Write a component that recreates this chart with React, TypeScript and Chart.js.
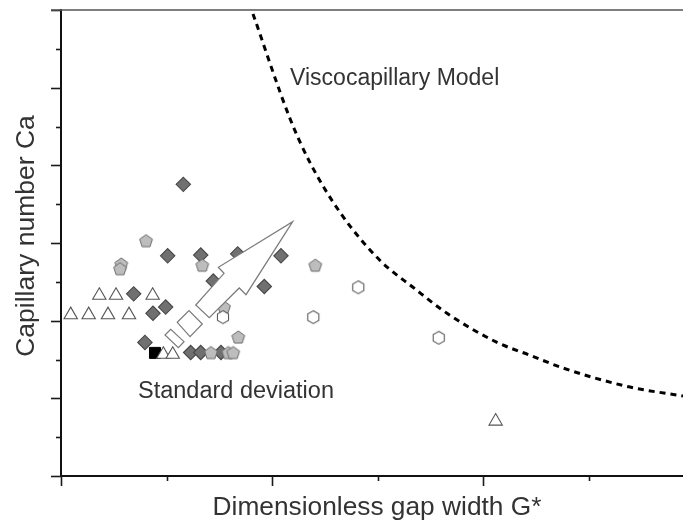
import React, { useEffect, useRef } from 'react';
import { Chart, registerables } from 'chart.js';

Chart.register(...registerables);

// ---- data (x in minor-tick units of G*, y in minor-tick units of Ca) ----
const diamondX = [1.158, 1.010, 1.323, 1.673, 2.083, 0.688, 0.991, 0.871, 1.442, 1.925, 0.795, 1.228, 1.323, 1.515];
const diamondY = [7.51, 5.67, 5.69, 5.72, 5.67, 4.69, 4.35, 4.19, 5.02, 4.88, 3.44, 3.18, 3.18, 3.18];

const pentagonX = [0.805, 0.571, 0.559, 1.338, 2.408, 1.544, 1.679, 1.420, 1.584, 1.631];
const pentagonY = [6.06, 5.46, 5.34, 5.43, 5.43, 4.35, 3.58, 3.18, 3.18, 3.18];

const triangleX = [0.363, 0.521, 0.868, 0.092, 0.262, 0.445, 0.644, 0.969, 1.058, 4.116];
const triangleY = [4.65, 4.65, 4.65, 4.15, 4.15, 4.15, 4.15, 3.13, 3.13, 1.41];

const hexagonX = [1.534, 2.389, 2.815, 3.577];
const hexagonY = [4.09, 4.09, 4.86, 3.56];

const squareX = [0.890];
const squareY = [3.17];

const modelX = [1.818, 2.169, 2.358, 2.642, 3.021, 3.333, 3.655, 4.129, 4.441, 4.754, 5.388, 5.890];
const modelY = [11.90, 9.20, 8.07, 6.79, 5.55, 4.86, 4.19, 3.44, 3.11, 2.78, 2.29, 2.06];

// standard deviation arrow (annotation outline)
const arrowX = [2.194, 1.752, 1.688, 1.404, 1.276, 1.544, 1.490];
const arrowY = [6.549, 4.669, 4.842, 4.077, 4.404, 5.220, 5.375];
const boxX = [1.101, 1.212, 1.338, 1.222];
const boxY = [3.958, 4.257, 3.915, 3.587];
const barX = [0.985, 1.039, 1.165, 1.111];
const barY = [3.631, 3.778, 3.459, 3.304];

const xTicks = [0, 1, 2, 3, 4, 5];
const yTicks = [0, 1, 2, 3, 4, 5, 6, 7, 8, 9, 10, 11, 12];

const xTitle = 'Dimensionless gap width G*';
const yTitle = 'Capillary number Ca';
const modelLabel = 'Viscocapillary Model';
const sdLabel = 'Standard deviation';
const modelLabelPos = [2.169, 10.07];
const sdLabelPos = [0.729, 2.0];

const pts = (xs: number[], ys: number[]) => xs.map((x, i) => ({ x, y: ys[i] }));

function makePentagon(): HTMLCanvasElement {
  const c = document.createElement('canvas');
  c.width = 16; c.height = 16;
  const ctx = c.getContext('2d')!;
  const R = 6.7;
  const h = R * (1 + Math.cos(Math.PI / 5));
  const cx = 8, cy = 8 - h / 2 + R;
  ctx.beginPath();
  for (let i = 0; i < 5; i++) {
    const a = -Math.PI / 2 + (i * 2 * Math.PI) / 5;
    const px = cx + R * Math.cos(a), py = cy + R * Math.sin(a);
    if (i === 0) ctx.moveTo(px, py); else ctx.lineTo(px, py);
  }
  ctx.closePath();
  ctx.fillStyle = '#bdbdbd';
  ctx.fill();
  ctx.strokeStyle = '#6a6a6a';
  ctx.lineWidth = 1;
  ctx.stroke();
  return c;
}

function makeHexagon(): HTMLCanvasElement {
  const c = document.createElement('canvas');
  c.width = 16; c.height = 16;
  const ctx = c.getContext('2d')!;
  const R = 6.4;
  const cx = 8, cy = 8;
  ctx.beginPath();
  for (let i = 0; i < 6; i++) {
    const a = -Math.PI / 2 + (i * Math.PI) / 3;
    const px = cx + R * Math.cos(a), py = cy + R * Math.sin(a);
    if (i === 0) ctx.moveTo(px, py); else ctx.lineTo(px, py);
  }
  ctx.closePath();
  ctx.fillStyle = '#ffffff';
  ctx.fill();
  ctx.strokeStyle = '#5a5a5a';
  ctx.lineWidth = 1.1;
  ctx.stroke();
  return c;
}

const FONT = '"Liberation Sans", Arial, Helvetica, sans-serif';

const decorPlugin = {
  id: 'decor',
  afterDatasetsDraw(chart: any) {
    const { ctx, scales } = chart;
    const sx = scales.x, sy = scales.y;
    const poly = (xs: number[], ys: number[]) => {
      ctx.beginPath();
      xs.forEach((x, i) => {
        const px = sx.getPixelForValue(x), py = sy.getPixelForValue(ys[i]);
        if (i === 0) ctx.moveTo(px, py); else ctx.lineTo(px, py);
      });
      ctx.closePath();
      ctx.fillStyle = '#ffffff';
      ctx.fill();
      ctx.strokeStyle = '#7a7a7a';
      ctx.lineWidth = 1.2;
      ctx.stroke();
    };
    ctx.save();
    ctx.lineJoin = 'miter';
    poly(arrowX, arrowY);
    poly(boxX, boxY);
    poly(barX, barY);
    ctx.restore();
  },
  afterDraw(chart: any) {
    const { ctx, scales, chartArea } = chart;
    const sx = scales.x, sy = scales.y;
    ctx.save();
    // tick marks
    ctx.strokeStyle = '#1a1a1a';
    ctx.lineWidth = 1.6;
    xTicks.forEach((v) => {
      const px = Math.round(sx.getPixelForValue(v)) + 0.5;
      const len = v % 2 === 0 ? 10 : 5;
      ctx.beginPath();
      ctx.moveTo(px, chartArea.bottom);
      ctx.lineTo(px, chartArea.bottom + len);
      ctx.stroke();
    });
    yTicks.forEach((v) => {
      const py = Math.round(sy.getPixelForValue(v)) + 0.5;
      const len = v % 2 === 0 ? 10 : 5;
      ctx.beginPath();
      ctx.moveTo(chartArea.left, py);
      ctx.lineTo(chartArea.left - len, py);
      ctx.stroke();
    });
    // top frame
    ctx.strokeStyle = '#555555';
    ctx.lineWidth = 1.6;
    ctx.beginPath();
    ctx.moveTo(chartArea.left - 10, chartArea.top);
    ctx.lineTo(chartArea.right, chartArea.top);
    ctx.stroke();

    // annotations
    ctx.fillStyle = '#333333';
    ctx.textBaseline = 'alphabetic';
    ctx.textAlign = 'left';
    ctx.font = `23px ${FONT}`;
    ctx.fillText(modelLabel, sx.getPixelForValue(modelLabelPos[0]), sy.getPixelForValue(modelLabelPos[1]));
    ctx.font = `23.5px ${FONT}`;
    ctx.fillText(sdLabel, sx.getPixelForValue(sdLabelPos[0]), sy.getPixelForValue(sdLabelPos[1]));

    // axis titles
    ctx.font = `26.3px ${FONT}`;
    ctx.textAlign = 'center';
    ctx.fillText(xTitle, (chartArea.left + chartArea.right) / 2 + 5, chartArea.bottom + 39);
    ctx.translate(34, (chartArea.top + chartArea.bottom) / 2 - 7);
    ctx.rotate(-Math.PI / 2);
    ctx.font = `26.5px ${FONT}`;
    ctx.fillText(yTitle, 0, 0);
    ctx.restore();
  },
};

export default function App() {
  const ref = useRef<HTMLCanvasElement>(null);
  useEffect(() => {
    if (!ref.current) return;
    const pentagon = makePentagon();
    const hexagon = makeHexagon();
    const chart = new Chart(ref.current, {
      type: 'scatter',
      data: {
        datasets: [
          {
            label: 'hexagons',
            data: pts(hexagonX, hexagonY),
            pointStyle: hexagon as any,
            pointRadius: 7,
            order: 1,
          },
          {
            label: 'triangles',
            data: pts(triangleX, triangleY),
            pointStyle: 'triangle',
            pointRadius: 7.7,
            backgroundColor: '#ffffff',
            borderColor: '#555555',
            borderWidth: 1.1,
            order: 2,
          },
          {
            label: 'pentagons',
            data: pts(pentagonX, pentagonY),
            pointStyle: pentagon as any,
            pointRadius: 7,
            order: 3,
          },
          {
            label: 'square',
            data: pts(squareX, squareY),
            pointStyle: 'rect',
            pointRadius: 7.8,
            backgroundColor: '#000000',
            borderColor: '#000000',
            borderWidth: 1,
            order: 4,
          },
          {
            label: 'diamonds',
            data: pts(diamondX, diamondY),
            pointStyle: 'rectRot',
            pointRadius: 7.2,
            backgroundColor: '#707070',
            borderColor: '#474747',
            borderWidth: 1.1,
            order: 5,
          },
          {
            type: 'line',
            label: 'model',
            data: pts(modelX, modelY),
            showLine: true,
            borderColor: '#000000',
            borderWidth: 3,
            borderDash: [6, 5],
            pointRadius: 0,
            cubicInterpolationMode: 'monotone',
            fill: false,
            order: 6,
          } as any,
        ],
      },
      options: {
        animation: false,
        responsive: false,
        devicePixelRatio: 1,
        events: [],
        layout: { autoPadding: false, padding: { top: 10, right: 0, left: 0, bottom: 0 } },
        plugins: { legend: { display: false }, tooltip: { enabled: false } },
        scales: {
          x: {
            type: 'linear',
            min: 0,
            max: 5.89,
            grid: { display: false },
            ticks: { display: false },
            border: { display: true, color: '#111111', width: 2 },
            afterFit: (s: any) => { s.height = 45; },
          },
          y: {
            type: 'linear',
            min: 0,
            max: 12,
            grid: { display: false },
            ticks: { display: false },
            border: { display: true, color: '#111111', width: 2 },
            afterFit: (s: any) => { s.width = 61; },
          },
        },
      },
      plugins: [decorPlugin],
    });
    return () => chart.destroy();
  }, []);
  return (
    <div style={{ position: 'absolute', left: 0, top: 0, width: 683, height: 521, background: '#ffffff' }}>
      <canvas ref={ref} width={683} height={521} style={{ display: 'block' }} />
    </div>
  );
}
